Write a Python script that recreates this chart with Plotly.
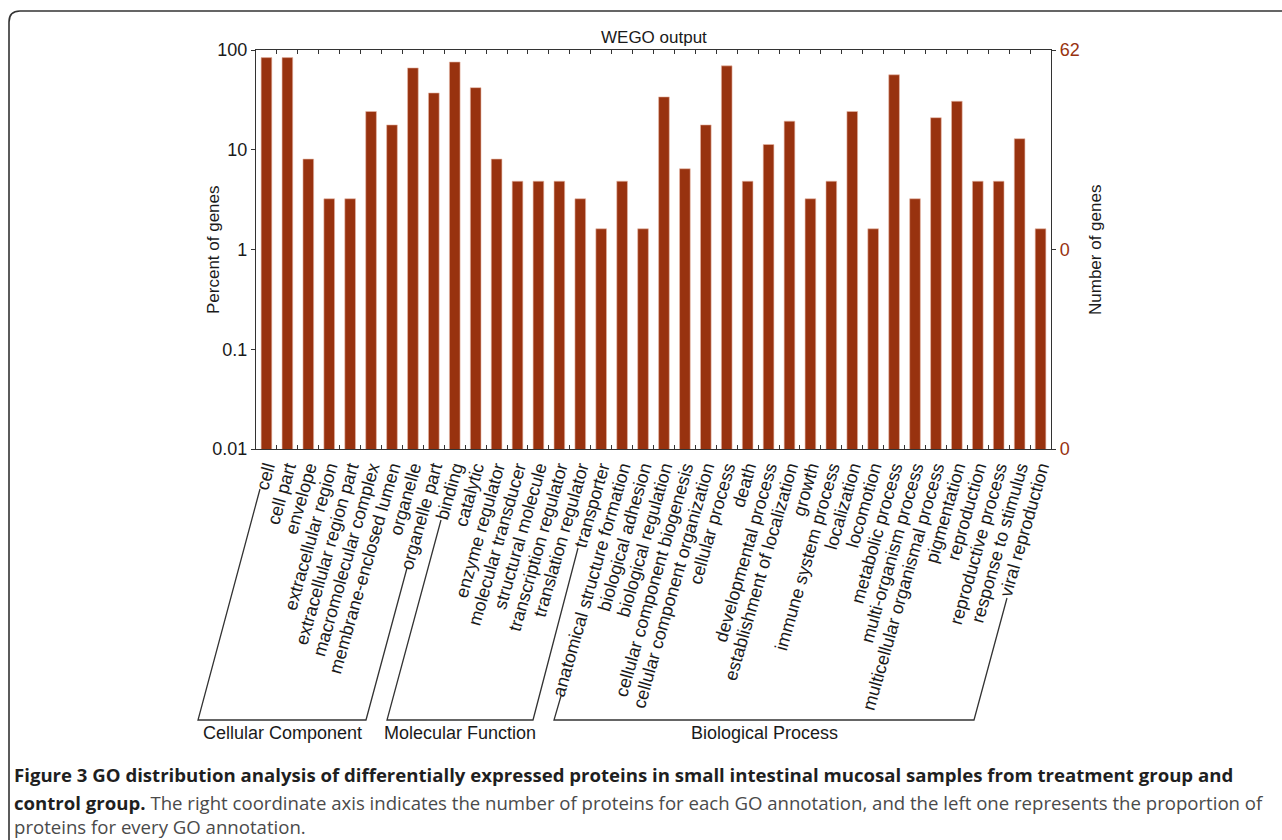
import math
import plotly.graph_objects as go

# ---------------- data ----------------
categories = [
    "cell", "cell part", "envelope", "extracellular region", "extracellular region part",
    "macromolecular complex", "membrane-enclosed lumen", "organelle", "organelle part",
    "binding", "catalytic", "enzyme regulator", "molecular transducer", "structural molecule",
    "transcription regulator", "translation regulator", "transporter",
    "anatomical structure formation", "biological adhesion", "biological regulation",
    "cellular component biogenesis", "cellular component organization", "cellular process",
    "death", "developmental process", "establishment of localization", "growth",
    "immune system process", "localization", "locomotion", "metabolic process",
    "multi-organism process", "multicellular organismal process", "pigmentation",
    "reproduction", "reproductive process", "response to stimulus", "viral reproduction",
]
gene_counts = [
    52, 52, 5, 2, 2, 15, 11, 41, 23,
    47, 26, 5, 3, 3, 3, 2, 1,
    3, 1, 21, 4, 11, 43, 3, 7, 12, 2, 3, 15, 1, 35, 2, 13, 19, 3, 3, 8, 1,
]
total_genes = 62
percent_of_genes = [c / total_genes * 100 for c in gene_counts]

left_tick_vals = [0.01, 0.1, 1, 10, 100]
left_tick_text = ["0.01", "0.1", "1", "10", "100"]
right_tick_text = ["0", "0", "62"]

groups = ["Cellular Component", "Molecular Function", "Biological Process"]

# ---------------- styling / layout ----------------
W, H = 1282, 840
PX0, PX1, PY_TOP, PY_BOT = 256, 1051, 50, 449
BAR = "#98320f"
AXC = "#333333"
FONT = "Liberation Sans, Arial, Helvetica, sans-serif"


def px(x):
    return (x - PX0) / (PX1 - PX0)


def py(y):
    return (PY_BOT - y) / (PY_BOT - PY_TOP)


fig = go.Figure()
fig.add_trace(go.Bar(
    x=categories, y=percent_of_genes, marker=dict(color=BAR, line=dict(width=0.6, color="#e8b8a8")),
    showlegend=False, hoverinfo="x+y",
))
# trace anchoring the right-hand (number of genes) axis
fig.add_trace(go.Scatter(
    x=categories, y=gene_counts, yaxis="y2", mode="markers",
    marker=dict(opacity=0), showlegend=False, hoverinfo="skip",
))

off = math.log10(total_genes / 100)
right_range = [-2 + off, 2 + off]

fig.update_layout(
    template="none",
    width=W, height=H,
    paper_bgcolor="white", plot_bgcolor="white",
    margin=dict(l=PX0, r=W - PX1, t=PY_TOP, b=H - PY_BOT, pad=0),
    font=dict(family=FONT, size=18, color="#1a1a1a"),
    bargap=0.49,
    showlegend=False,
    xaxis=dict(
        type="category", range=[-0.5, len(categories) - 0.5], automargin=False,
        tickmode="linear", tick0=0, dtick=1,
        tickangle=-74, tickson="boundaries", ticks="inside", ticklen=4, tickwidth=1,
        tickcolor=AXC, showline=True, linecolor=AXC, linewidth=1.3, mirror="ticks",
        showgrid=False, zeroline=False, tickfont=dict(size=18, color="#1a1a1a"),
    ),
    yaxis=dict(
        type="log", range=[-2, 2], automargin=False,
        tickvals=left_tick_vals, ticktext=left_tick_text,
        ticks="outside", ticklen=4, tickcolor=AXC, showline=True, linecolor=AXC,
        linewidth=1.3, showgrid=False, zeroline=False, tickfont=dict(size=18, color="#1a1a1a"),
    ),
    yaxis2=dict(
        type="log", overlaying="y", side="right", range=right_range, automargin=False,
        tickvals=[total_genes / 10000, total_genes / 100, total_genes], ticktext=right_tick_text,
        ticks="outside", ticklen=4, tickcolor=AXC, showline=True, linecolor=AXC,
        linewidth=1.3, showgrid=False, zeroline=False, tickfont=dict(size=18, color=BAR),
    ),
)

ann = []
ann.append(dict(text="WEGO output", x=0.5, y=py(37), xref="paper", yref="paper",
                showarrow=False, font=dict(size=17, family=FONT), xanchor="center", yanchor="middle"))
ann.append(dict(text="Percent of genes", x=px(213), y=py(250), xref="paper", yref="paper",
                showarrow=False, textangle=-90, font=dict(size=17, family=FONT),
                xanchor="center", yanchor="middle"))
ann.append(dict(text="Number of genes", x=px(1095), y=py(250), xref="paper", yref="paper",
                showarrow=False, textangle=-90, font=dict(size=17, family=FONT),
                xanchor="center", yanchor="middle"))

# group brackets (pixel geometry -> paper)
brackets = [
    [(260, 489), (198, 720), (366, 720), (407, 568)],
    [(441, 520), (387, 720), (533, 720), (578, 548)],
    [(561, 696), (554, 720), (974, 720), (1007, 598)],
]
label_x = [282, 460, 764]
shapes = []
for pts, name, lx in zip(brackets, groups, label_x):
    path = "M " + " L ".join(f"{px(a):.5f},{py(b):.5f}" for a, b in pts)
    shapes.append(dict(type="path", path=path, xref="paper", yref="paper",
                       line=dict(color=AXC, width=1.3)))
    ann.append(dict(text=name, x=px(lx), y=py(733), xref="paper", yref="paper",
                    showarrow=False, font=dict(size=18, family=FONT),
                    xanchor="center", yanchor="middle"))

# outer frame with rounded top-left corner
frame = (f"M {px(9):.5f},{py(850):.5f} L {px(9):.5f},{py(22):.5f} "
         f"Q {px(9):.5f},{py(11):.5f} {px(20):.5f},{py(11):.5f} L {px(1300):.5f},{py(11):.5f}")
shapes.append(dict(type="path", path=frame, xref="paper", yref="paper",
                   line=dict(color="#333333", width=1.6)))

CAP = "Open Sans, Noto Sans, sans-serif"
cap_lines = [
    ("<b>Figure 3 GO distribution analysis of differentially expressed proteins in small intestinal "
     "mucosal samples from treatment group and</b>", 774),
    ("<b>control group.</b><span style='color:#4a4a4a'> The right coordinate axis indicates the number "
     "of proteins for each GO annotation, and the left one represents the proportion of</span>", 802),
    ("<span style='color:#4a4a4a'>proteins for every GO annotation.</span>", 827),
]
for txt, yy in cap_lines:
    ann.append(dict(text=txt, x=px(13), y=py(yy), xref="paper", yref="paper", showarrow=False,
                    xanchor="left", yanchor="middle", align="left", borderpad=0,
                    font=dict(size=18.6, family=CAP, color="#1f1f1f")))

fig.update_layout(annotations=ann, shapes=shapes)
fig.write_html("out.html", config={"displayModeBar": False},
               post_script="document.body.style.margin='0';")
